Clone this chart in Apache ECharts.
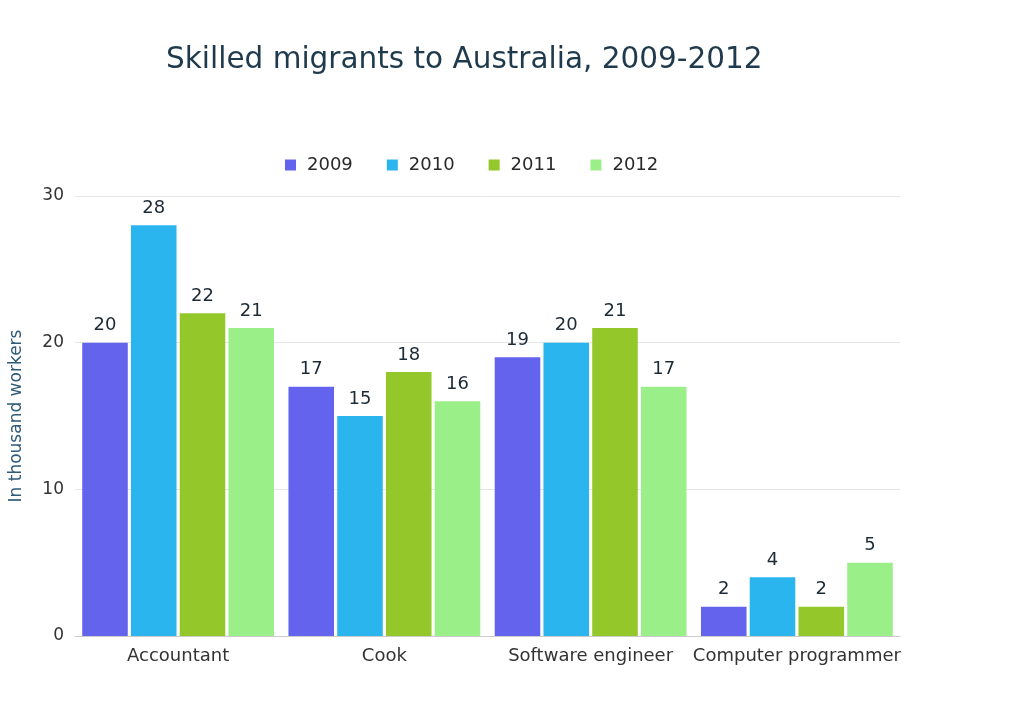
<!DOCTYPE html>
<html><head><meta charset="utf-8">
<script src="https://cdn.jsdelivr.net/npm/echarts@6/dist/echarts.min.js"></script>
<style>html,body{margin:0;padding:0;background:#fff}#c{width:1024px;height:706px}</style>
</head><body><div id="c"></div>
<script>
const categories = ["Accountant", "Cook", "Software engineer", "Computer programmer"];
const years = ["2009", "2010", "2011", "2012"];
const v2009 = [20, 17, 19, 2];
const v2010 = [28, 15, 20, 4];
const v2011 = [22, 18, 21, 2];
const v2012 = [21, 16, 17, 5];
const yTicks = [0, 10, 20, 30];
const colors = ["#6363ee", "#2bb5ef", "#93c72a", "#9bef88"];
const seriesValues = [v2009, v2010, v2011, v2012];
const font = "DejaVu Sans";
const chart = echarts.init(document.getElementById('c'));
chart.setOption({
  animation: false,
  textStyle: {fontFamily: font},
  title: {text: "Skilled migrants to Australia, 2009-2012", left: 161, top: 40,
    textStyle: {fontSize: 29.5, fontWeight: 'normal', color: '#1f3a4c', fontFamily: font}},
  legend: {top: 151, left: 280, itemWidth: 11, itemHeight: 11, itemGap: 34, icon: 'rect',
    textStyle: {fontSize: 18, color: '#2a2a2a', fontFamily: font, padding: [0, 0, 0, 6]}},
  grid: {left: 70, right: 124, top: 196, bottom: 70},
  xAxis: {type: 'category', data: categories,
    axisLine: {lineStyle: {color: '#cccccc'}}, axisTick: {show: false},
    axisLabel: {fontSize: 18, color: '#333', margin: 11, interval: 0}},
  yAxis: {type: 'value', min: 0, max: 30, interval: 10,
    name: "In thousand workers", nameLocation: 'middle', nameGap: 50,
    nameTextStyle: {fontSize: 17, color: '#2f5a78'},
    axisLabel: {fontSize: 17, color: '#333', margin: 11},
    splitLine: {lineStyle: {color: '#e6e6e6'}}},
  series: years.map((y, i) => ({
    name: y, type: 'bar', data: seriesValues[i], barGap: '7%', barCategoryGap: '7%',
    itemStyle: {color: colors[i]},
    label: {show: true, position: 'top', fontSize: 18, color: '#1c2a36', distance: 8}
  }))
});
</script></body></html>
